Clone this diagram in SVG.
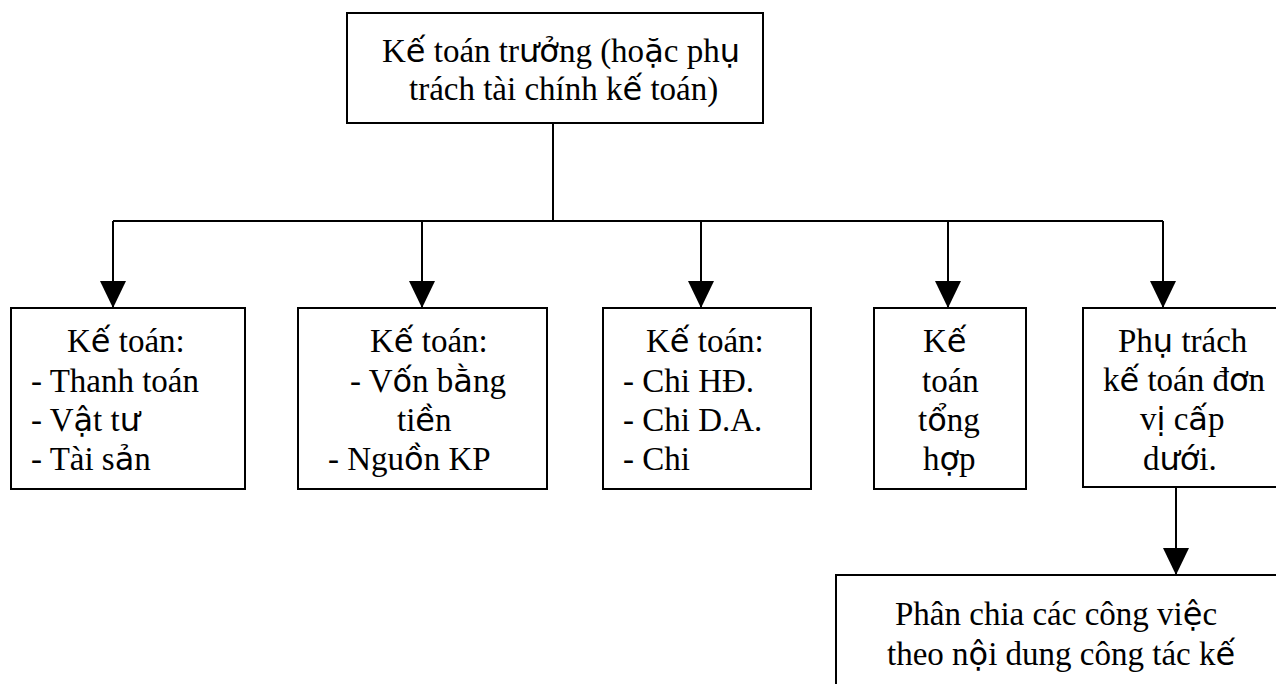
<svg xmlns="http://www.w3.org/2000/svg" width="1276" height="684" viewBox="0 0 1276 684">
  <style>
    .box { fill: #ffffff; stroke: #000000; stroke-width: 2; }
    .wire { fill: none; stroke: #000000; stroke-width: 2; }
    .t { font-family: "Liberation Serif", "DejaVu Serif", serif; font-size: 33px; fill: #000000; }
    .s { font-family: "DejaVu Sans", "Liberation Sans", sans-serif; font-size: 32px; }
  </style>
  <defs>
    <marker id="head" markerUnits="userSpaceOnUse" markerWidth="28" markerHeight="28" refX="27" refY="13" orient="auto">
      <path d="M0,0 L27,13 L0,26 Z" fill="#000000"/>
    </marker>
  </defs>

  <!-- connectors -->
  <g id="connectors">
    <path class="wire" d="M553,123 V221 M113,221 H1163"/>
    <line class="wire" x1="113" y1="221" x2="113" y2="308" marker-end="url(#head)"/>
    <line class="wire" x1="422" y1="221" x2="422" y2="308" marker-end="url(#head)"/>
    <line class="wire" x1="701" y1="221" x2="701" y2="308" marker-end="url(#head)"/>
    <line class="wire" x1="948" y1="221" x2="948" y2="308" marker-end="url(#head)"/>
    <line class="wire" x1="1163" y1="221" x2="1163" y2="308" marker-end="url(#head)"/>
    <line class="wire" x1="1176" y1="487" x2="1176" y2="575" marker-end="url(#head)"/>
  </g>

  <!-- chief accountant -->
  <g id="chief">
    <rect class="box" x="347" y="13" width="416" height="110"/>
    <text class="t" x="382" y="62">K<tspan class="s">ế</tspan> toán tr<tspan class="s">ưở</tspan>ng (ho<tspan class="s">ặ</tspan>c ph<tspan class="s">ụ</tspan></text>
    <text class="t" x="409" y="100">trách tài chính k<tspan class="s">ế</tspan> toán)</text>
  </g>

  <g id="payments">
    <rect class="box" x="11" y="308" width="234" height="181"/>
    <text class="t" x="67" y="352">K<tspan class="s">ế</tspan> toán:</text>
    <text class="t" x="31" y="392">- Thanh toán</text>
    <text class="t" x="31" y="431">- V<tspan class="s">ậ</tspan>t t<tspan class="s">ư</tspan></text>
    <text class="t" x="31" y="470">- Tài s<tspan class="s">ả</tspan>n</text>
  </g>

  <g id="funds">
    <rect class="box" x="298" y="308" width="249" height="181"/>
    <text class="t" x="370" y="352">K<tspan class="s">ế</tspan> toán:</text>
    <text class="t" x="350" y="392">- V<tspan class="s">ố</tspan>n b<tspan class="s">ằ</tspan>ng</text>
    <text class="t" x="397" y="431">ti<tspan class="s">ề</tspan>n</text>
    <text class="t" x="328" y="470">- Ngu<tspan class="s">ồ</tspan>n KP</text>
  </g>

  <g id="expenses">
    <rect class="box" x="603" y="308" width="208" height="181"/>
    <text class="t" x="646" y="352">K<tspan class="s">ế</tspan> toán:</text>
    <text class="t" x="623" y="392">- Chi HĐ.</text>
    <text class="t" x="623" y="431">- Chi D.A.</text>
    <text class="t" x="623" y="470">- Chi</text>
  </g>

  <g id="general">
    <rect class="box" x="874" y="308" width="152" height="181"/>
    <text class="t" x="923" y="352">K<tspan class="s">ế</tspan></text>
    <text class="t" x="922" y="392">toán</text>
    <text class="t" x="918" y="431">t<tspan class="s">ổ</tspan>ng</text>
    <text class="t" x="923" y="470">h<tspan class="s">ợ</tspan>p</text>
  </g>

  <g id="subunits">
    <rect class="box" x="1083" y="308" width="210" height="179"/>
    <text class="t" x="1118" y="352">Ph<tspan class="s">ụ</tspan> trách</text>
    <text class="t" x="1103" y="391">k<tspan class="s">ế</tspan> toán đ<tspan class="s">ơ</tspan>n</text>
    <text class="t" x="1140" y="430">v<tspan class="s">ị</tspan> c<tspan class="s">ấ</tspan>p</text>
    <text class="t" x="1143" y="470">d<tspan class="s">ướ</tspan>i.</text>
  </g>

  <g id="division">
    <rect class="box" x="836" y="575" width="460" height="130"/>
    <text class="t" x="895" y="625">Phân chia các công vi<tspan class="s">ệ</tspan>c</text>
    <text class="t" x="887" y="665">theo n<tspan class="s">ộ</tspan>i dung công tác k<tspan class="s">ế</tspan></text>
  </g>
</svg>
